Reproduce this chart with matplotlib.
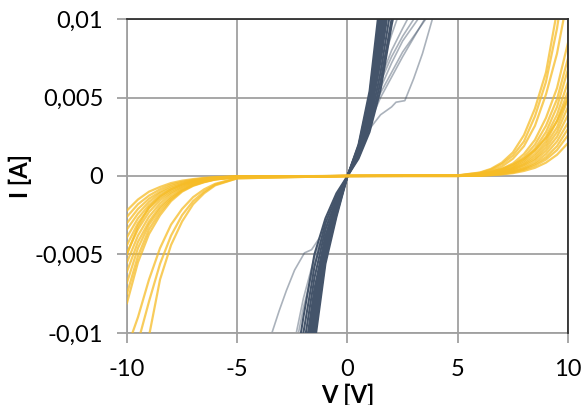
import numpy as np
import matplotlib
matplotlib.use('Agg')
import matplotlib.pyplot as plt

plt.rcParams['font.family'] = ['Lato', 'DejaVu Sans']

# yellow curves (diode-like), currents in mA
v_left = [-10, -9.5, -9, -8.5, -8, -7.5, -7, -6.5, -6, -5, 0]
v_right = [0, 5, 6, 6.5, 7, 7.5, 8, 8.5, 9, 9.5, 10]

left_curves = [
    [-2.2, -1.5, -1.0, -0.7, -0.45, -0.3, -0.2, -0.12, -0.07, -0.02, 0],
    [-2.6, -1.8, -1.25, -0.85, -0.55, -0.37, -0.24, -0.15, -0.09, -0.03, 0],
    [-3.0, -2.1, -1.45, -1.0, -0.65, -0.43, -0.28, -0.17, -0.1, -0.03, 0],
    [-3.4, -2.4, -1.65, -1.1, -0.75, -0.5, -0.32, -0.2, -0.12, -0.04, 0],
    [-3.9, -2.7, -1.85, -1.25, -0.85, -0.55, -0.36, -0.22, -0.13, -0.04, 0],
    [-4.4, -3.0, -2.05, -1.4, -0.95, -0.62, -0.4, -0.25, -0.15, -0.05, 0],
    [-4.9, -3.4, -2.3, -1.55, -1.05, -0.7, -0.45, -0.28, -0.17, -0.05, 0],
    [-5.5, -3.8, -2.6, -1.75, -1.15, -0.75, -0.48, -0.3, -0.18, -0.06, 0],
    [-6.1, -4.2, -2.9, -1.95, -1.3, -0.85, -0.55, -0.34, -0.2, -0.06, 0],
    [-6.8, -4.6, -3.1, -2.1, -1.4, -0.9, -0.58, -0.36, -0.21, -0.07, 0],
    [-7.5, -5.1, -3.4, -2.3, -1.5, -0.95, -0.6, -0.38, -0.22, -0.07, 0],
    [-8.1, -5.5, -3.7, -2.5, -1.6, -1.0, -0.63, -0.4, -0.23, -0.07, 0],
    [-16, -13, -10.2, -6.6, -4.4, -2.9, -1.8, -1.1, -0.6, -0.15, 0],
    [-13, -10.6, -8.0, -5.6, -3.8, -2.5, -1.6, -1.0, -0.55, -0.15, 0],
    [-11, -9.0, -6.6, -4.6, -3.1, -2.1, -1.35, -0.85, -0.5, -0.12, 0],
    [-5.0, -3.2, -2.0, -1.3, -0.85, -0.55, -0.35, -0.22, -0.13, -0.04, 0],
]

right_curves = [
    [0, 0.04, 0.22, 0.45, 0.85, 1.5, 2.6, 4.3, 6.6, 10.5, 16],
    [0, 0.03, 0.2, 0.4, 0.75, 1.3, 2.2, 3.8, 6.0, 9.4, 14],
    [0, 0.02, 0.15, 0.3, 0.6, 1.1, 1.9, 3.2, 5.2, 7.8, 11.5],
    [0, 0.02, 0.12, 0.25, 0.45, 0.8, 1.4, 2.3, 3.7, 5.6, 8.5],
    [0, 0.02, 0.1, 0.2, 0.4, 0.7, 1.2, 2.0, 3.2, 4.9, 7.5],
    [0, 0.01, 0.09, 0.18, 0.35, 0.6, 1.05, 1.75, 2.8, 4.4, 6.8],
    [0, 0.01, 0.08, 0.16, 0.3, 0.55, 0.95, 1.6, 2.5, 3.9, 6.0],
    [0, 0.01, 0.07, 0.14, 0.27, 0.5, 0.85, 1.4, 2.2, 3.5, 5.4],
    [0, 0.01, 0.06, 0.12, 0.24, 0.45, 0.75, 1.25, 2.0, 3.1, 4.9],
    [0, 0.01, 0.05, 0.1, 0.2, 0.4, 0.7, 1.1, 1.8, 2.8, 4.4],
    [0, 0.0, 0.05, 0.1, 0.2, 0.35, 0.6, 1.0, 1.6, 2.5, 3.9],
    [0, 0.0, 0.04, 0.08, 0.17, 0.3, 0.5, 0.85, 1.4, 2.2, 3.4],
    [0, 0.0, 0.03, 0.07, 0.14, 0.26, 0.45, 0.75, 1.2, 1.9, 3.0],
    [0, 0.0, 0.03, 0.06, 0.12, 0.22, 0.4, 0.65, 1.05, 1.65, 2.6],
    [0, 0.0, 0.02, 0.05, 0.1, 0.18, 0.32, 0.52, 0.85, 1.35, 2.1],
    [0, 0.03, 0.15, 0.27, 0.45, 0.72, 1.1, 1.65, 2.4, 3.5, 5.0],
]

# dark, nearly ohmic curves, mA
v_dark = [-2.5, -2, -1.5, -1, -0.5, 0, 0.5, 1, 1.5, 2, 2.5]
dark_curves = [
    [-26, -17, -10.8, -5.6, -2.6, 0, 2.0, 5.4, 11.5, 18, 26],
    [-24.5, -16.2, -10.3, -5.3, -2.45, 0, 1.9, 5.1, 10.8, 17.2, 24.5],
    [-23, -15.5, -9.8, -5.1, -2.3, 0, 1.8, 4.9, 10.2, 16.5, 23],
    [-22, -14.7, -9.3, -4.8, -2.2, 0, 1.75, 4.6, 9.6, 15.6, 22],
    [-21, -14, -8.9, -4.6, -2.1, 0, 1.7, 4.4, 9.0, 14.8, 21],
    [-20, -13.5, -8.4, -4.4, -2.0, 0, 1.6, 4.2, 8.5, 14, 20],
    [-19, -13, -8.0, -4.2, -1.9, 0, 1.5, 4.0, 8.1, 13.3, 19],
    [-18, -12.5, -7.6, -4.0, -1.8, 0, 1.45, 3.8, 7.7, 12.6, 18],
    [-17.5, -12, -7.2, -3.8, -1.7, 0, 1.4, 3.6, 7.3, 12, 17],
    [-16, -11, -6.5, -3.4, -1.5, 0, 1.3, 3.3, 6.6, 11, 15.5],
    [-14.5, -10, -5.8, -3.0, -1.3, 0, 1.2, 3.0, 6.0, 10, 14],
    [-13.5, -9.0, -5.0, -2.7, -1.1, 0, 1.1, 2.8, 5.5, 9.6, 13],
]

# lighter grey curves that drift away from the bundle
grey_v = [
    [-3.45, -3.1, -2.77, -2.4, -1.95, -1.63, -1.27, -1.0, -0.5, 0, 0.5, 1.0, 1.5, 2.0, 2.2, 2.6, 3.0, 3.4, 3.85],
    [-2.35, -2, -1.5, -1, -0.5, 0, 0.5, 1, 1.5, 2, 2.5, 3, 3.5],
    [-2.25, -2, -1.5, -1, -0.5, 0, 0.5, 1, 1.5, 2, 2.5, 3.0, 3.3],
    [0, 0.5, 1, 1.5, 2, 2.5, 2.8],
    [0, 0.5, 1, 1.5, 2, 2.3],
    [0, 0.5, 1, 1.5, 2, 2.5, 3.0, 3.6],
    [0, 0.5, 1, 1.5, 2, 2.5, 3.1],
]
grey_i = [
    [-10.1, -8.6, -7.3, -6.0, -4.9, -4.7, -3.95, -3.1, -1.6, 0, 1.6, 3.0, 3.9, 4.4, 4.7, 4.8, 6.2, 7.8, 10],
    [-10.2, -7.8, -5.2, -3.3, -1.6, 0, 1.7, 3.4, 5.0, 6.3, 7.6, 8.8, 10],
    [-10.2, -8.4, -5.6, -3.5, -1.7, 0, 1.8, 3.8, 5.6, 7.2, 8.6, 9.6, 10.2],
    [0, 1.9, 4.0, 6.2, 8.0, 9.4, 10.2],
    [0, 2.0, 4.3, 6.8, 9.0, 10.2],
    [0, 1.7, 3.6, 5.3, 6.6, 7.9, 8.9, 10.1],
    [0, 1.8, 3.9, 6.0, 7.6, 8.9, 10.2],
]

y_ticks = [-0.01, -0.005, 0, 0.005, 0.01]
y_labels = ['-0,01', '-0,005', '0', '0,005', '0,01']
x_ticks = [-10, -5, 0, 5, 10]
x_labels = ['-10', '-5', '0', '5', '10']

fig = plt.figure(figsize=(5.85, 4.05), dpi=100)
ax = fig.add_axes([0.217, 0.178, 0.754, 0.775])

for vv, ii in zip(grey_v, grey_i):
    ax.plot(vv, np.array(ii) * 1e-3, color='#44546A', alpha=0.45, lw=1.2, zorder=2)
for ii in dark_curves:
    ax.plot(v_dark, np.array(ii) * 1e-3, color='#44546A', lw=1.5, zorder=3)
for left, right in zip(left_curves, right_curves):
    ax.plot(v_left + v_right, np.array(left + right) * 1e-3,
            color='#F6BC26', alpha=0.75, lw=1.6, zorder=4)

ax.set_xlim(-10, 10)
ax.set_ylim(-0.01, 0.01)
ax.set_xticks(x_ticks)
ax.set_xticklabels(x_labels)
ax.set_yticks(y_ticks)
ax.set_yticklabels(y_labels)

ax.grid(True, color='#a0a0a0', lw=1.3)
ax.set_axisbelow(True)
for side in ['left', 'bottom']:
    ax.spines[side].set_color('#a0a0a0')
    ax.spines[side].set_linewidth(1.3)
for side in ['top', 'right']:
    ax.spines[side].set_color('#303030')
    ax.spines[side].set_linewidth(1.3)
    ax.spines[side].set_zorder(5)

ax.tick_params(axis='both', labelsize=17, color='#a0a0a0', length=7, width=1.3,
               direction='out')
ax.tick_params(axis='x', pad=12)
ax.tick_params(axis='y', pad=10)

ax.set_xlabel('V [V]', fontsize=17, fontweight='bold')
ax.set_ylabel('I [A]', fontsize=17, fontweight='bold')
ax.xaxis.set_label_coords(0.5, -0.163)
ax.yaxis.set_label_coords(-0.215, 0.5)

fig.savefig('out.png', dpi=100)
